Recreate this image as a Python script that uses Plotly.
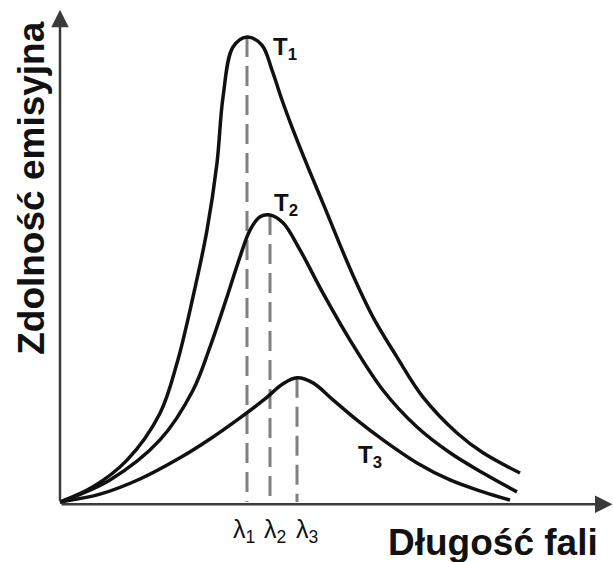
import plotly.graph_objects as go

# Wavelength (arbitrary units) and spectral emissive power for three temperatures T1 > T2 > T3
wavelength_T1 = [0, 0.66, 1.34, 2.0, 2.34, 2.66, 2.94, 3.14, 3.26, 3.46, 3.74, 4.04, 4.24,
                 4.44, 4.70, 5.00, 5.30, 5.60, 5.90, 6.26, 6.74, 7.26, 7.94, 8.46, 9.2]
emission_T1 = [0, 0.33, 0.91, 1.93, 3.02, 4.46, 5.91, 7.37, 8.80, 9.89, 10.11, 9.93, 9.39,
               8.74, 7.98, 7.17, 6.39, 5.59, 4.83, 4.02, 3.15, 2.28, 1.50, 1.07, 0.63]

wavelength_T2 = [0, 1.0, 2.0, 2.66, 3.0, 3.34, 3.6, 3.8, 4.0, 4.2, 4.46, 4.8, 5.26, 5.8,
                 6.46, 7.14, 7.8, 8.46, 9.14]
emission_T2 = [0, 0.48, 1.35, 2.43, 3.37, 4.46, 5.33, 5.91, 6.20, 6.24, 6.07, 5.48, 4.54,
               3.52, 2.43, 1.63, 1.07, 0.63, 0.22]

wavelength_T3 = [0, 0.8, 1.6, 2.4, 3.0, 3.6, 4.1, 4.46, 4.74, 5.06, 5.46, 5.94, 6.46, 7.14,
                 7.8, 8.46, 9.0]
emission_T3 = [0, 0.17, 0.50, 0.96, 1.37, 1.83, 2.24, 2.57, 2.70, 2.59, 2.22, 1.78, 1.35,
               0.85, 0.48, 0.22, 0.04]

curve_names = ["T<sub>1</sub>", "T<sub>2</sub>", "T<sub>3</sub>"]
peak_names = ["λ<sub>1</sub>", "λ<sub>2</sub>", "λ<sub>3</sub>"]
y_title = "Zdolność emisyjna"
x_title = "Długość fali"

series = [(wavelength_T1, emission_T1), (wavelength_T2, emission_T2), (wavelength_T3, emission_T3)]

FONT = "Liberation Sans, Arial, sans-serif"
INK = "#111111"

fig = go.Figure()

# Dashed drop lines from each maximum down to the wavelength axis
for xs, ys in series:
    i = ys.index(max(ys))
    fig.add_trace(go.Scatter(
        x=[xs[i], xs[i]], y=[ys[i], 0], mode="lines",
        line=dict(color="#808080", width=3, dash="20px,9px"),
        hoverinfo="skip", showlegend=False))

# Emission curves
for xs, ys in series:
    fig.add_trace(go.Scatter(
        x=xs, y=ys, mode="lines",
        line=dict(color=INK, width=3.5, shape="spline", smoothing=1.0),
        hoverinfo="skip", showlegend=False))

annotations = []

# Axis arrows
annotations.append(dict(x=0, y=10.7, ax=0, ay=0, xref="x", yref="y", axref="x", ayref="y",
                        text="", showarrow=True, arrowhead=2, arrowsize=1.4, arrowwidth=2.5,
                        arrowcolor="#3a3a3a", standoff=0, startstandoff=0))
annotations.append(dict(x=11.05, y=-0.05, ax=0, ay=-0.05, xref="x", yref="y", axref="x", ayref="y",
                        text="", showarrow=True, arrowhead=2, arrowsize=1.4, arrowwidth=2.5,
                        arrowcolor="#3a3a3a", standoff=0, startstandoff=0))

# Temperature labels beside the curves
label_pos = [(4.22, 9.85), (4.24, 6.47), (5.92, 0.98)]
for name, (lx, ly) in zip(curve_names, label_pos):
    annotations.append(dict(x=lx, y=ly, xref="x", yref="y", text=f"<b>{name}</b>",
                            showarrow=False, xanchor="left", yanchor="middle",
                            font=dict(family=FONT, size=24, color=INK)))

# Wavelength-of-maximum labels under the axis, evenly spaced
lambda_label_x = [3.42, 4.04, 4.68]
for name, lx in zip(peak_names, lambda_label_x):
    annotations.append(dict(x=lx, y=-0.62, xref="x", yref="y", text=name,
                            showarrow=False, xanchor="left", yanchor="middle",
                            font=dict(family=FONT, size=25, color=INK)))

# Axis titles
annotations.append(dict(x=8.66, y=-0.89, xref="x", yref="y", text=f"<b>{x_title}</b>",
                        showarrow=False, xanchor="center", yanchor="middle",
                        font=dict(family=FONT, size=37, color=INK)))
annotations.append(dict(x=-0.56, y=6.83, xref="x", yref="y", text=f"<b>{y_title}</b>",
                        showarrow=False, xanchor="center", yanchor="middle", textangle=-90,
                        font=dict(family=FONT, size=37, color=INK)))

fig.update_layout(
    width=613, height=562,
    margin=dict(l=0, r=0, t=0, b=0),
    paper_bgcolor="white", plot_bgcolor="white",
    xaxis=dict(range=[-1.2, 11.06], visible=False, fixedrange=True),
    yaxis=dict(range=[-1.304, 10.913], visible=False, fixedrange=True),
    annotations=annotations,
    showlegend=False,
)

fig.write_html("out.html")
